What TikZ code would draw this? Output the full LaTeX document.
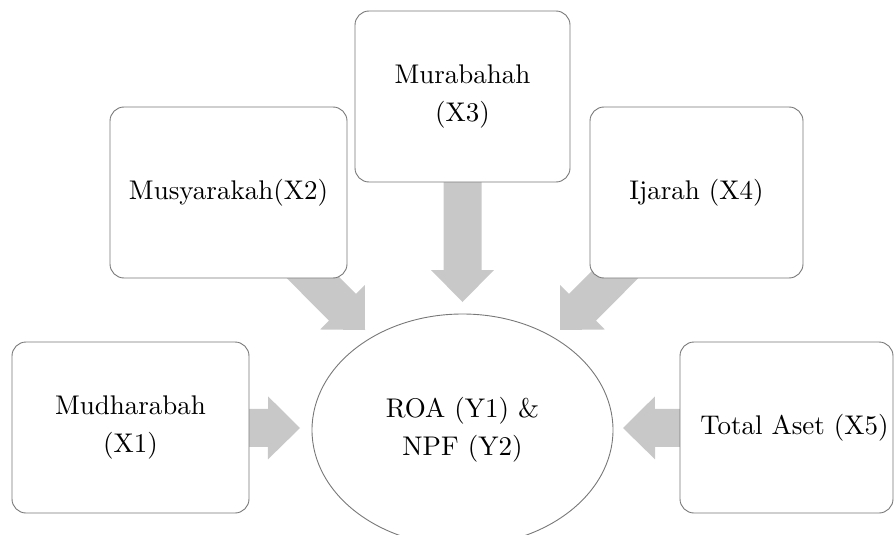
\documentclass[tikz,border=0pt]{standalone}
\usepackage{fontspec}
\setmainfont{lmroman10-regular}[Extension=.otf]
\usetikzlibrary{calc,shapes.geometric,backgrounds}
\definecolor{arrowgray}{RGB}{200,200,200}
\definecolor{linegray}{RGB}{120,120,120}
\newcommand\labelfont{\fontsize{27}{38}\selectfont}
\tikzset{
  box/.style={draw=linegray, line width=0.9pt, fill=white, rounded corners=14pt,
    inner sep=0pt, outer sep=0pt, align=center, font=\labelfont},
  target/.style={ellipse, draw=linegray, line width=0.9pt, fill=white,
    inner sep=0pt, outer sep=0pt, align=center, font=\labelfont},
  blockarrow/.style={fill=arrowgray, draw=none}
}
% block arrow from #1 (start) to #2 (tip)
\newcommand\blockarr[2]{%
  \coordinate (#2-b) at ($(#2)!32pt!(#1)$);
  \path[blockarrow] ($(#1)!19pt!90:(#2)$) -- ($(#2-b)!19pt!90:(#2)$)
    -- ($(#2-b)!31.5pt!90:(#2)$) -- (#2) -- ($(#2-b)!31.5pt!-90:(#2)$)
    -- ($(#2-b)!19pt!-90:(#2)$) -- ($(#1)!19pt!-90:(#2)$) -- cycle;
}
\begin{document}
\begin{tikzpicture}[x=1pt,y=-1pt]
\useasboundingbox (0,0) rectangle (895,535);
% boxes
\node[box, minimum width=215pt, minimum height=171pt] (m3) at (462.5,96.5) {Murabahah\\(X3)};
\node[box, minimum width=237pt, minimum height=171pt] (m2) at (228.5,192.5) {Musyarakah(X2)};
\node[box, minimum width=213pt, minimum height=171pt] (m4) at (696.5,192.5) {Ijarah (X4)};
\node[box, minimum width=237pt, minimum height=171pt] (m1) at (130.5,427.5) {Mudharabah\\(X1)};
\node[box, minimum width=213pt, minimum height=171pt] (m5) at (786.5,427.5) {\hspace*{16pt}Total Aset (X5)};
\node[target, minimum width=301pt, minimum height=232pt] (y) at (462.5,430) {ROA (Y1) \&\\NPF (Y2)};
% arrow tips
\coordinate (t1) at (300,428);
\coordinate (t2) at (365,330);
\coordinate (t3) at (462.5,302);
\coordinate (t4) at (560,330);
\coordinate (t5) at (623,428);
\begin{scope}[on background layer]
  \blockarr{m1.center}{t1}
  \blockarr{m2.center}{t2}
  \blockarr{m3.center}{t3}
  \blockarr{m4.center}{t4}
  \blockarr{m5.center}{t5}
\end{scope}
\end{tikzpicture}
\end{document}
